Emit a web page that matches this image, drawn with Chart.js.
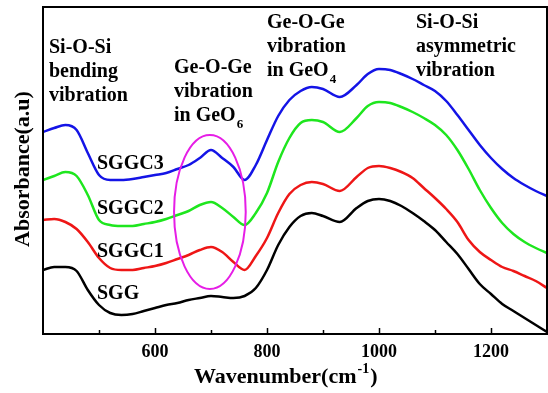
<!DOCTYPE html>
<html>
<head>
<meta charset="utf-8">
<script src="https://cdn.jsdelivr.net/npm/chart.js@4/dist/chart.umd.min.js"></script>
<style>
  html, body { margin: 0; padding: 0; background: #fff; overflow: hidden; }
  #wrap { width: 548px; height: 393px; position: relative; }
</style>
</head>
<body>
<div id="wrap"><canvas id="ftirChart"></canvas></div>
<script>
// wavenumber (cm-1) sampling points shared by all spectra
const wavenumbers = [400, 420, 440, 460, 480, 500, 520, 540, 560, 580, 600, 620, 640, 660, 680, 700, 720, 740, 760, 780, 800, 820, 840, 860, 880, 900, 930, 960, 980, 1000, 1020, 1040, 1060, 1080, 1100, 1120, 1140, 1160, 1180, 1200, 1220, 1240, 1260, 1280, 1300];

// absorbance (a.u., stacked)
const sggc3 = [2.02, 2.06, 2.09, 2.04, 1.81, 1.59, 1.54, 1.54, 1.55, 1.57, 1.59, 1.61, 1.65, 1.69, 1.76, 1.84, 1.76, 1.67, 1.54, 1.69, 1.94, 2.18, 2.34, 2.43, 2.47, 2.45, 2.37, 2.49, 2.60, 2.65, 2.64, 2.60, 2.55, 2.49, 2.43, 2.33, 2.19, 2.04, 1.89, 1.76, 1.65, 1.56, 1.49, 1.43, 1.38];
const sggc2 = [1.54, 1.58, 1.62, 1.58, 1.39, 1.14, 1.09, 1.08, 1.08, 1.10, 1.12, 1.15, 1.19, 1.23, 1.29, 1.32, 1.26, 1.17, 1.09, 1.21, 1.41, 1.72, 1.96, 2.11, 2.14, 2.12, 2.02, 2.16, 2.28, 2.32, 2.31, 2.27, 2.22, 2.16, 2.09, 1.99, 1.84, 1.65, 1.44, 1.26, 1.11, 1.00, 0.92, 0.86, 0.81];
const sggc1 = [1.14, 1.15, 1.12, 1.05, 0.92, 0.76, 0.66, 0.64, 0.64, 0.66, 0.68, 0.71, 0.75, 0.79, 0.84, 0.87, 0.82, 0.72, 0.64, 0.78, 0.96, 1.21, 1.40, 1.49, 1.52, 1.50, 1.43, 1.57, 1.66, 1.68, 1.66, 1.62, 1.56, 1.46, 1.36, 1.25, 1.12, 0.94, 0.82, 0.74, 0.67, 0.63, 0.58, 0.53, 0.46];
const sgg = [0.64, 0.67, 0.67, 0.63, 0.44, 0.29, 0.21, 0.19, 0.20, 0.23, 0.26, 0.29, 0.31, 0.34, 0.36, 0.38, 0.37, 0.36, 0.38, 0.46, 0.64, 0.89, 1.07, 1.18, 1.21, 1.18, 1.12, 1.26, 1.33, 1.35, 1.33, 1.28, 1.21, 1.13, 1.04, 0.92, 0.80, 0.65, 0.50, 0.40, 0.30, 0.23, 0.16, 0.09, 0.02];

const xTickLabels = [600, 800, 1000, 1200];

// GeO6 band marker (centre and half-widths in data units)
const ellipseCenter = [698, 1.22];
const ellipseRadius = [64, 0.77];

const serif = '"Liberation Serif", "Times New Roman", serif';

function toPoints(vals) {
  return wavenumbers.map((w, i) => ({ x: w, y: vals[i] }));
}

function drawLines(ctx, x, y, lines) {
  lines.forEach((line, i) => {
    let cx = x;
    const cy = y + i * 24;
    line.forEach(part => {
      if (part.sub) {
        ctx.font = 'bold 13px ' + serif;
        ctx.fillText(part.sub, cx + 1, cy + 9);
        cx += ctx.measureText(part.sub).width + 1;
      } else {
        ctx.font = 'bold 20px ' + serif;
        ctx.fillText(part.t, cx, cy);
        cx += ctx.measureText(part.t).width;
      }
    });
  });
}

const decorPlugin = {
  id: 'decor',
  afterDatasetsDraw(chart) {
    const ctx = chart.ctx;
    const area = chart.chartArea;
    const xs = chart.scales.x;
    const ys = chart.scales.y;

    // magenta ellipse round the GeO6 band
    ctx.save();
    ctx.strokeStyle = '#e61ee6';
    ctx.lineWidth = 2;
    const ex = xs.getPixelForValue(ellipseCenter[0]);
    const ey = ys.getPixelForValue(ellipseCenter[1]);
    const rx = xs.getPixelForValue(ellipseCenter[0] + ellipseRadius[0]) - ex;
    const ry = ey - ys.getPixelForValue(ellipseCenter[1] + ellipseRadius[1]);
    ctx.beginPath();
    ctx.ellipse(ex, ey, rx, ry, 0, 0, Math.PI * 2);
    ctx.stroke();
    ctx.restore();

    // frame
    ctx.save();
    ctx.strokeStyle = '#000';
    ctx.lineWidth = 2;
    ctx.strokeRect(area.left, area.top, area.right - area.left, area.bottom - area.top);

    // inward ticks on the bottom axis
    ctx.lineWidth = 1.5;
    xs.ticks.forEach(t => {
      if (t.value <= xs.min || t.value >= xs.max) return;
      const px = Math.round(xs.getPixelForValue(t.value)) + 0.5;
      const len = xTickLabels.includes(t.value) ? 6 : 4;
      ctx.beginPath();
      ctx.moveTo(px, area.bottom);
      ctx.lineTo(px, area.bottom - len);
      ctx.stroke();
    });

    // band annotations
    ctx.fillStyle = '#000';
    ctx.textBaseline = 'middle';
    ctx.textAlign = 'left';
    drawLines(ctx, 49, 48, [[{ t: 'Si-O-Si' }], [{ t: 'bending' }], [{ t: 'vibration' }]]);
    drawLines(ctx, 174, 68, [[{ t: 'Ge-O-Ge' }], [{ t: 'vibration' }], [{ t: 'in GeO' }, { sub: '6' }]]);
    drawLines(ctx, 267, 23, [[{ t: 'Ge-O-Ge' }], [{ t: 'vibration' }], [{ t: 'in GeO' }, { sub: '4' }]]);
    drawLines(ctx, 416, 23, [[{ t: 'Si-O-Si' }], [{ t: 'asymmetric' }], [{ t: 'vibration' }]]);

    // sample names
    ctx.font = 'bold 20px ' + serif;
    ctx.fillText('SGGC3', 97, 164);
    ctx.fillText('SGGC2', 97, 209);
    ctx.fillText('SGGC1', 97, 252);
    ctx.fillText('SGG', 97, 294);

    // axis titles
    ctx.font = 'bold 22px ' + serif;
    ctx.textBaseline = 'middle';
    let tx = 194;
    const ty = 377;
    ctx.fillText('Wavenumber(cm', tx, ty);
    tx += ctx.measureText('Wavenumber(cm').width;
    ctx.font = 'bold 14px ' + serif;
    ctx.fillText('-1', tx + 1, ty - 8);
    tx += ctx.measureText('-1').width + 2;
    ctx.font = 'bold 22px ' + serif;
    ctx.fillText(')', tx, ty);

    ctx.translate(23, 169);
    ctx.rotate(-Math.PI / 2);
    ctx.textAlign = 'center';
    ctx.fillText('Absorbance(a.u)', 0, 0);
    ctx.restore();
  }
};

function lineSet(label, vals, color) {
  return {
    label: label,
    data: toPoints(vals),
    borderColor: color,
    borderWidth: 2.5,
    pointRadius: 0,
    fill: false,
    cubicInterpolationMode: 'monotone'
  };
}

const ctx = document.getElementById('ftirChart').getContext('2d');
const ftirChart = new Chart(ctx, {
  type: 'line',
  data: {
    datasets: [
      lineSet('SGGC3', sggc3, '#1414e6'),
      lineSet('SGGC2', sggc2, '#1ee61e'),
      lineSet('SGGC1', sggc1, '#ee1616'),
      lineSet('SGG', sgg, '#000000')
    ]
  },
  options: {
    responsive: true,
    maintainAspectRatio: false,
    animation: false,
    layout: { padding: { top: 7, right: 1, left: 0, bottom: 0 } },
    plugins: {
      legend: { display: false },
      tooltip: { enabled: false }
    },
    scales: {
      x: {
        type: 'linear',
        min: 400,
        max: 1300,
        grid: { display: false, drawTicks: false },
        border: { display: false },
        ticks: {
          stepSize: 100,
          padding: 8,
          color: '#000',
          font: { family: serif, size: 18, weight: 'bold' },
          maxRotation: 0,
          callback: v => xTickLabels.includes(v) ? String(v) : ''
        },
        afterFit: s => {
          s.height = 59;
          s.paddingLeft = 0;
          s.paddingRight = 0;
        }
      },
      y: {
        min: 0,
        max: 3.27,
        grid: { display: false, drawTicks: false },
        border: { display: false },
        ticks: { display: false },
        afterFit: s => { s.width = 43; }
      }
    }
  },
  plugins: [decorPlugin]
});
</script>
</body>
</html>
